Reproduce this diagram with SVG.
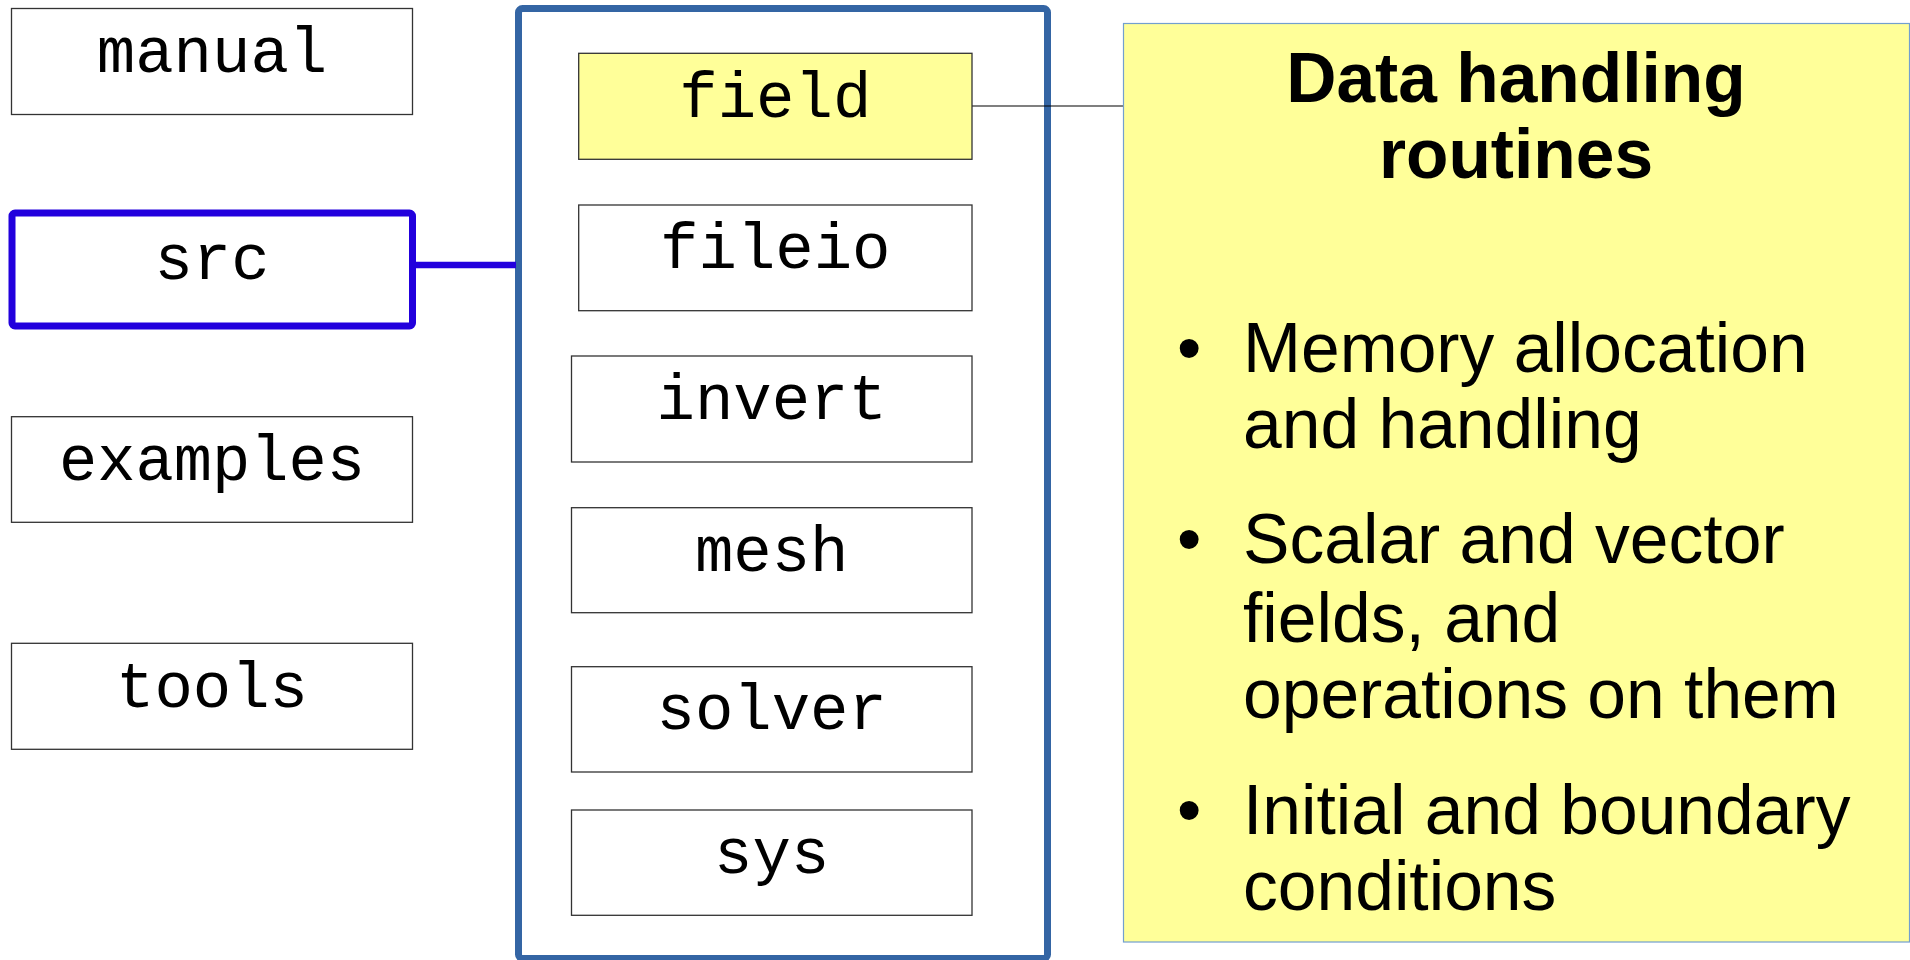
<svg xmlns="http://www.w3.org/2000/svg" width="1910" height="960" viewBox="0 0 1910 960">
<style>
.box{fill:#ffffff;stroke:#333333;stroke-width:1.3}
.hl{fill:#ffff99;stroke:#333333;stroke-width:1.3}
.mono{font-family:"Liberation Mono",monospace;font-size:64px;fill:#000;text-anchor:middle}
.sans{font-family:"Liberation Sans",Arial,sans-serif;font-size:69.6px;fill:#000}
.title{font-weight:bold;text-anchor:middle;font-size:69.5px}
</style>
<rect width="1910" height="960" fill="#ffffff"/>
<g id="container">
<rect x="518.5" y="8.5" width="529" height="950" rx="4" fill="none" stroke="#3465a4" stroke-width="7"/>
</g>
<g id="connectors">
<line x1="415" y1="265" x2="516" y2="265" stroke="#2200dd" stroke-width="6.7"/>
<line x1="972" y1="106" x2="1123" y2="106" stroke="#000" stroke-width="1.2"/>
</g>
<g id="manual">
<rect class="box" x="11.5" y="8.5" width="401" height="106"/>
<text class="mono" x="212" y="71.7">manual</text>
</g>
<g id="src">
<rect x="12" y="213" width="400.5" height="113" rx="3" fill="#ffffff" stroke="#2200dd" stroke-width="7"/>
<text class="mono" x="212" y="279.3">src</text>
</g>
<g id="examples">
<rect class="box" x="11.5" y="416.7" width="401" height="105.6"/>
<text class="mono" x="212" y="480" textLength="306" lengthAdjust="spacingAndGlyphs">examples</text>
</g>
<g id="tools">
<rect class="box" x="11.5" y="643.3" width="401" height="106"/>
<text class="mono" x="212" y="706.7">tools</text>
</g>
<g id="field">
<rect class="hl" x="578.7" y="53.3" width="393.3" height="106"/>
<text class="mono" x="775.3" y="116.7">field</text>
</g>
<g id="fileio">
<rect class="box" x="578.7" y="205" width="393.3" height="105.7"/>
<text class="mono" x="775.3" y="267.7">fileio</text>
</g>
<g id="invert">
<rect class="box" x="571.5" y="356" width="400.5" height="106"/>
<text class="mono" x="771.7" y="418.7">invert</text>
</g>
<g id="mesh">
<rect class="box" x="571.5" y="507.7" width="400.5" height="105"/>
<text class="mono" x="771.7" y="570.7">mesh</text>
</g>
<g id="solver">
<rect class="box" x="571.5" y="666.7" width="400.5" height="105.3"/>
<text class="mono" x="771.7" y="729.3">solver</text>
</g>
<g id="sys">
<rect class="box" x="571.5" y="810" width="400.5" height="105.3"/>
<text class="mono" x="771.7" y="872.7">sys</text>
</g>
<g id="description">
<rect x="1123.5" y="23.5" width="786" height="918.5" fill="#ffff99" stroke="#729fcf" stroke-width="1.2"/>
<text class="sans title" x="1516" y="101.7">Data handling</text>
<text class="sans title" x="1516" y="178">routines</text>
<text class="sans" x="1177" y="371.7">•</text>
<text class="sans" x="1243" y="371.7">Memory allocation</text>
<text class="sans" x="1243" y="448">and handling</text>
<text class="sans" x="1177" y="563">•</text>
<text class="sans" x="1243" y="563">Scalar and vector</text>
<text class="sans" x="1243" y="642">fields, and</text>
<text class="sans" x="1243" y="718">operations on them</text>
<text class="sans" x="1177" y="834">•</text>
<text class="sans" x="1243" y="834">Initial and boundary</text>
<text class="sans" x="1243" y="910">conditions</text>
</g>
</svg>
